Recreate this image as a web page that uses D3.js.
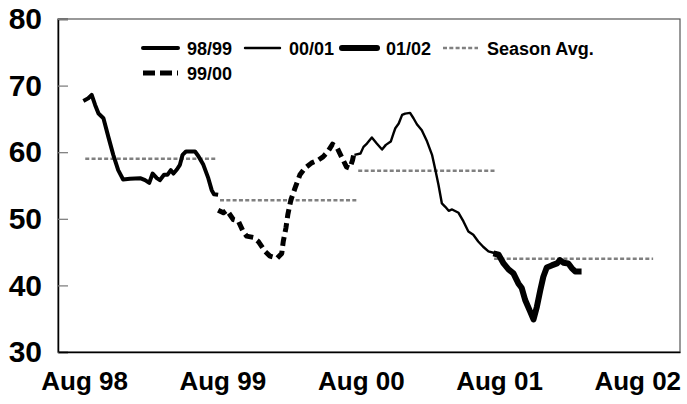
<!DOCTYPE html>
<html>
<head>
<meta charset="utf-8">
<script src="https://cdn.jsdelivr.net/npm/d3@7"></script>
<style>
  body { margin: 0; background: #fff; }
  svg { display: block; font-family: "Liberation Sans", Arial, sans-serif; font-weight: bold; }
</style>
</head>
<body>
<div id="chart"></div>
<script>
// season series
const s9899 = [
  ["1998-07-30", 67.7], ["1998-08-12", 68.1], ["1998-08-21", 68.6], ["1998-08-30", 67.1],
  ["1998-09-08", 65.8], ["1998-09-21", 65.1], ["1998-10-04", 62.3], ["1998-10-17", 59.6],
  ["1998-10-30", 57.3], ["1998-11-12", 55.9], ["1998-11-30", 56.0], ["1998-12-27", 56.1],
  ["1999-01-09", 55.8], ["1999-01-20", 55.4], ["1999-01-29", 56.8], ["1999-02-09", 56.1],
  ["1999-02-17", 55.8], ["1999-02-28", 56.6], ["1999-03-09", 56.6], ["1999-03-18", 57.3],
  ["1999-03-25", 56.8], ["1999-04-03", 57.4], ["1999-04-11", 58.1], ["1999-04-18", 59.6],
  ["1999-04-27", 60.1], ["1999-05-21", 60.1], ["1999-05-30", 59.4], ["1999-06-12", 58.1],
  ["1999-06-25", 56.1], ["1999-07-04", 54.3], ["1999-07-10", 53.7], ["1999-07-21", 53.6]
];
const s9900 = [
  ["1999-07-21", 51.3], ["1999-08-04", 50.9], ["1999-08-13", 51.3], ["1999-08-30", 49.9],
  ["1999-09-12", 49.7], ["1999-09-25", 48.1], ["1999-10-04", 47.4], ["1999-10-22", 47.2],
  ["1999-11-04", 46.6], ["1999-11-22", 45.1], ["1999-12-05", 44.4], ["1999-12-24", 44.1],
  ["2000-01-05", 44.8], ["2000-01-09", 46.6], ["2000-01-16", 48.6], ["2000-01-21", 50.6],
  ["2000-01-29", 52.8], ["2000-02-09", 54.6], ["2000-02-22", 56.6], ["2000-03-06", 57.6],
  ["2000-03-24", 58.4], ["2000-04-10", 58.8], ["2000-04-23", 59.3], ["2000-05-06", 60.1],
  ["2000-05-18", 61.2], ["2000-05-29", 60.8], ["2000-06-11", 59.3], ["2000-06-24", 57.8],
  ["2000-07-03", 57.6], ["2000-07-10", 58.8], ["2000-07-13", 59.6]
];
const s0001 = [
  ["2000-07-15", 59.6], ["2000-07-31", 59.8], ["2000-08-08", 60.8], ["2000-08-17", 61.3],
  ["2000-08-30", 62.2], ["2000-09-12", 61.3], ["2000-09-26", 60.4], ["2000-10-06", 61.1],
  ["2000-10-19", 61.6], ["2000-10-26", 62.8], ["2000-10-31", 63.6], ["2000-11-09", 64.3],
  ["2000-11-18", 65.6], ["2000-11-26", 65.8], ["2000-12-09", 65.9], ["2000-12-18", 65.1],
  ["2000-12-27", 64.2], ["2001-01-09", 63.3], ["2001-01-23", 61.6], ["2001-02-05", 59.6],
  ["2001-02-14", 57.3], ["2001-02-22", 55.1], ["2001-03-03", 52.3], ["2001-03-12", 51.8],
  ["2001-03-21", 51.2], ["2001-03-30", 51.4], ["2001-04-16", 50.9], ["2001-04-29", 49.6],
  ["2001-05-12", 48.1], ["2001-05-25", 47.6], ["2001-06-07", 46.6], ["2001-06-20", 45.8],
  ["2001-07-04", 45.1], ["2001-07-17", 44.9], ["2001-07-26", 44.9]
];
const s0102 = [
  ["2001-07-17", 44.8], ["2001-07-31", 44.6], ["2001-08-13", 43.3], ["2001-08-26", 42.4],
  ["2001-09-08", 41.8], ["2001-09-21", 40.3], ["2001-09-30", 39.6], ["2001-10-09", 37.8],
  ["2001-10-22", 36.1], ["2001-10-31", 34.9], ["2001-11-09", 36.8], ["2001-11-18", 39.3],
  ["2001-11-26", 41.3], ["2001-12-05", 42.7], ["2001-12-18", 43.0], ["2002-01-01", 43.3],
  ["2002-01-09", 43.8], ["2002-01-18", 43.4], ["2002-01-31", 43.3], ["2002-02-09", 42.6],
  ["2002-02-18", 42.1], ["2002-03-07", 42.1]
];

// season averages: [start, end, value]
const seasonAvg = [
  ["1998-08-04", "1999-07-17", 59.0],
  ["1999-07-26", "2000-07-20", 52.8],
  ["2000-07-25", "2001-07-22", 57.2],
  ["2001-07-19", "2002-09-12", 44.0]
];

const xTickDates = ["1998-08-01", "1999-08-01", "2000-08-01", "2001-08-01", "2002-08-01"];
const xTickLabels = ["Aug 98", "Aug 99", "Aug 00", "Aug 01", "Aug 02"];
const yTicks = [30, 40, 50, 60, 70, 80];
const legendLabels = ["98/99", "00/01", "01/02", "Season Avg.", "99/00"];

const parse = d3.timeParse("%Y-%m-%d");

const width = 687;
const height = 404;
const marginTop = 19;
const marginRight = 7;
const marginBottom = 52;
const marginLeft = 58;

const x = d3.scaleTime()
    .domain([parse("1998-05-24"), parse("2002-11-22")])
    .range([marginLeft, width - marginRight]);

const y = d3.scaleLinear()
    .domain([30, 80])
    .range([height - marginBottom, marginTop]);

const svg = d3.select("#chart").append("svg")
    .attr("width", width)
    .attr("height", height);

// plot frame: gray top/right, black left/bottom
svg.append("rect")
    .attr("x", marginLeft)
    .attr("y", marginTop)
    .attr("width", width - marginLeft - marginRight)
    .attr("height", height - marginTop - marginBottom)
    .attr("fill", "none")
    .attr("stroke", "#555")
    .attr("stroke-width", 1.2);

// y axis, ticks pointing inward
svg.append("g")
    .attr("transform", `translate(${marginLeft},0)`)
    .call(d3.axisLeft(y).tickValues(yTicks).tickSize(-10).tickPadding(16))
    .call(g => g.select(".domain").attr("stroke", "#000").attr("stroke-width", 1.5))
    .call(g => g.selectAll(".tick line").attr("stroke", "#777").attr("stroke-width", 1.2))
    .call(g => g.selectAll(".tick text")
        .attr("font-size", 30)
        .attr("font-weight", "bold")
        .attr("font-family", "Liberation Sans, Arial, sans-serif")
        .attr("fill", "#000"));

// x axis, labels only
svg.append("g")
    .attr("transform", `translate(0,${height - marginBottom})`)
    .call(d3.axisBottom(x)
        .tickValues(xTickDates.map(parse))
        .tickFormat((d, i) => xTickLabels[i])
        .tickSize(0)
        .tickPadding(20))
    .call(g => g.select(".domain").attr("stroke", "#000").attr("stroke-width", 1.5))
    .call(g => g.selectAll(".tick text")
        .attr("font-size", 26)
        .attr("font-weight", "bold")
        .attr("font-family", "Liberation Sans, Arial, sans-serif")
        .attr("fill", "#000"));

// season average lines
svg.append("g")
    .selectAll("line")
    .data(seasonAvg)
    .join("line")
        .attr("x1", d => x(parse(d[0])))
        .attr("x2", d => x(parse(d[1])))
        .attr("y1", d => y(d[2]))
        .attr("y2", d => y(d[2]))
        .attr("stroke", "#808080")
        .attr("stroke-width", 2.5)
        .attr("stroke-dasharray", "4,2.3");

const line = d3.line()
    .x(d => x(parse(d[0])))
    .y(d => y(d[1]));

const series = [
    {data: s9899, w: 4, dash: null},
    {data: s9900, w: 5, dash: "9,5"},
    {data: s0001, w: 2.4, dash: null},
    {data: s0102, w: 6, dash: null}
];

svg.append("g")
    .selectAll("path")
    .data(series)
    .join("path")
        .attr("d", d => line(d.data))
        .attr("fill", "none")
        .attr("stroke", "#000")
        .attr("stroke-width", d => d.w)
        .attr("stroke-dasharray", d => d.dash)
        .attr("stroke-linejoin", "round");

// legend
const legendItems = [
    {x: 143, y: 48, w: 4, dash: null, color: "#000"},
    {x: 245, y: 48, w: 2.4, dash: null, color: "#000"},
    {x: 342, y: 48, w: 6, dash: null, color: "#000"},
    {x: 443, y: 48, w: 2.5, dash: "4,2.3", color: "#808080"},
    {x: 143, y: 73, w: 5, dash: "12,5", color: "#000"}
];

const leg = svg.append("g")
    .selectAll("g")
    .data(legendItems)
    .join("g")
        .attr("transform", d => `translate(${d.x},${d.y})`);

leg.append("line")
    .attr("x1", 0)
    .attr("x2", 35)
    .attr("stroke", d => d.color)
    .attr("stroke-width", d => d.w)
    .attr("stroke-dasharray", d => d.dash)
    .attr("stroke-linecap", d => d.dash ? "butt" : "round");

leg.append("text")
    .attr("x", 44)
    .attr("y", 7)
    .attr("font-size", 18)
    .attr("fill", "#000")
    .text((d, i) => legendLabels[i]);
</script>
</body>
</html>
